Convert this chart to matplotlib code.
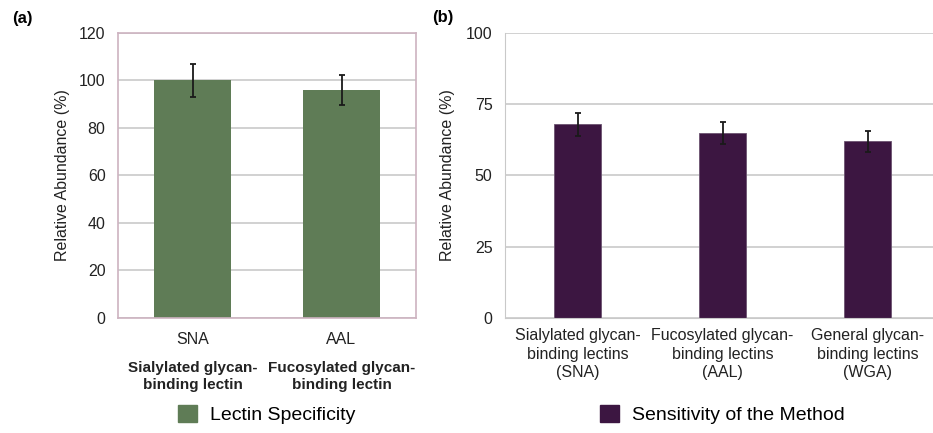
import matplotlib.pyplot as plt
from matplotlib.patches import Patch

plt.rcParams['font.family'] = ['Liberation Sans', 'DejaVu Sans']

# panel (a) data
lectins_a = ['SNA', 'AAL']
groups_a = ['Sialylated glycan-\nbinding lectin', 'Fucosylated glycan-\nbinding lectin']
values_a = [100, 96]
errors_a = [7, 6.5]

# panel (b) data
labels_b = ['Sialylated glycan-\nbinding lectins\n(SNA)',
            'Fucosylated glycan-\nbinding lectins\n(AAL)',
            'General glycan-\nbinding lectins\n(WGA)']
values_b = [68, 65, 62]
errors_b = [4, 3.8, 3.6]

green = '#5f7c56'
purple = '#3c1641'
grid_c = '#c9c9c9'

fig = plt.figure(figsize=(9.33, 4.33), dpi=100)
ax1 = fig.add_axes([0.1265, 0.2656, 0.3194, 0.6582])
ax2 = fig.add_axes([0.5413, 0.2656, 0.4662, 0.6582])

# ---- (a)
x_a = range(len(lectins_a))
ax1.bar(x_a, values_a, width=0.52, color=green, zorder=2)
ax1.errorbar(x_a, values_a, yerr=errors_a, fmt='none', ecolor='#1a1a1a',
             elinewidth=1.3, capsize=2.5, capthick=1.3, zorder=3)
ax1.set_xlim(-0.5, 1.5)
ax1.set_ylim(0, 120)
ax1.set_yticks(range(0, 121, 20))
ax1.set_xticks(list(x_a))
ax1.set_xticklabels(lectins_a)
ax1.yaxis.grid(True, color=grid_c, linewidth=1.2)
ax1.set_axisbelow(True)
for s in ax1.spines.values():
    s.set_color('#cdb3c0')
    s.set_linewidth(1.2)
ax1.tick_params(length=0, labelsize=11.5, colors='#222222')
ax1.tick_params(axis='x', pad=10)
ax1.tick_params(axis='y', pad=9)
ax1.set_ylabel('Relative Abundance (%)', fontsize=11.5, color='#222222')
ax1.yaxis.set_label_coords(-0.161, 0.5)
for i, g in zip(x_a, groups_a):
    ax1.text(i, -0.205, g, transform=ax1.get_xaxis_transform(), ha='center',
             va='center', fontsize=11, fontweight='bold', color='#222222',
             linespacing=1.3)
ax1.legend(handles=[Patch(color=green, label='Lectin Specificity')],
           loc='center', bbox_to_anchor=(0.5, -0.34), frameon=False,
           fontsize=14, handlelength=0.95, handleheight=0.95, handletextpad=0.7)

# ---- (b)
x_b = range(len(labels_b))
ax2.bar(x_b, values_b, width=0.32, color=purple, edgecolor='#6b5370',
        linewidth=0.6, zorder=2)
ax2.errorbar(x_b, values_b, yerr=errors_b, fmt='none', ecolor='#1a1a1a',
             elinewidth=1.3, capsize=2.5, capthick=1.3, zorder=3)
ax2.set_xlim(-0.5, 2.5)
ax2.set_ylim(0, 100)
ax2.set_yticks(range(0, 101, 25))
ax2.set_xticks(list(x_b))
ax2.set_xticklabels(labels_b, linespacing=1.32)
ax2.yaxis.grid(True, color=grid_c, linewidth=1.2)
ax2.set_axisbelow(True)
ax2.spines['top'].set_visible(False)
ax2.spines['right'].set_visible(False)
ax2.spines['left'].set_color(grid_c)
ax2.spines['bottom'].set_color(grid_c)
ax2.tick_params(length=0, labelsize=11.5, colors='#222222')
ax2.tick_params(axis='x', pad=7)
ax2.tick_params(axis='y', pad=9)
ax2.set_ylabel('Relative Abundance (%)', fontsize=11.5, color='#222222')
ax2.yaxis.set_label_coords(-0.115, 0.5)
ax2.legend(handles=[Patch(color=purple, label='Sensitivity of the Method')],
           loc='center', bbox_to_anchor=(0.5, -0.34), frameon=False,
           fontsize=14, handlelength=0.95, handleheight=0.95, handletextpad=0.7)

fig.text(0.013, 0.958, '(a)', fontsize=12, fontweight='bold', va='center')
fig.text(0.463, 0.960, '(b)', fontsize=12, fontweight='bold', va='center')

fig.savefig('out.png', dpi=100)
